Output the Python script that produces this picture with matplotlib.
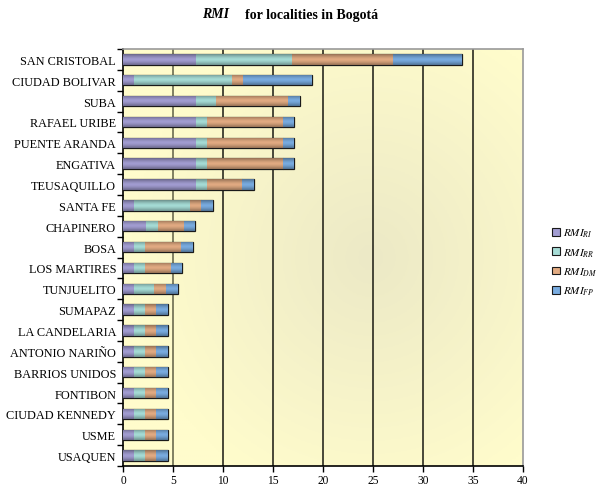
import numpy as np
import matplotlib
matplotlib.use("Agg")
import matplotlib.pyplot as plt
from matplotlib.colors import to_rgb
from matplotlib.patches import Patch

plt.rcParams['font.family'] = ['Liberation Serif', 'DejaVu Serif']
plt.rcParams['mathtext.fontset'] = 'stix'

localities = ["SAN CRISTOBAL", "CIUDAD BOLIVAR", "SUBA", "RAFAEL URIBE", "PUENTE ARANDA",
              "ENGATIVA", "TEUSAQUILLO", "SANTA FE", "CHAPINERO", "BOSA", "LOS MARTIRES",
              "TUNJUELITO", "SUMAPAZ", "LA CANDELARIA", "ANTONIO NARIÑO", "BARRIOS UNIDOS",
              "FONTIBON", "CIUDAD KENNEDY", "USME", "USAQUEN"]
rmi_ri = [7.3, 1.1, 7.3, 7.3, 7.3, 7.3, 7.3, 1.1, 2.3, 1.1, 1.1, 1.1, 1.1, 1.1, 1.1, 1.1, 1.1, 1.1, 1.1, 1.1]
rmi_rr = [9.6, 9.8, 2.0, 1.1, 1.1, 1.1, 1.1, 5.6, 1.2, 1.1, 1.1, 2.0, 1.1, 1.1, 1.1, 1.1, 1.1, 1.1, 1.1, 1.1]
rmi_dm = [10.1, 1.1, 7.2, 7.6, 7.6, 7.6, 3.5, 1.1, 2.6, 3.6, 2.6, 1.2, 1.1, 1.1, 1.1, 1.1, 1.1, 1.1, 1.1, 1.1]
rmi_fp = [6.9, 6.9, 1.2, 1.1, 1.1, 1.1, 1.2, 1.2, 1.1, 1.2, 1.1, 1.2, 1.2, 1.2, 1.2, 1.2, 1.2, 1.2, 1.2, 1.2]
series = [rmi_ri, rmi_rr, rmi_dm, rmi_fp]
series_labels = [r'$\mathit{RMI}_{RI}$', r'$\mathit{RMI}_{RR}$', r'$\mathit{RMI}_{DM}$', r'$\mathit{RMI}_{FP}$']
colors = ['#a29dd2', '#a6dcd6', '#e2ab82', '#79ace0']
xticks = [0, 5, 10, 15, 20, 25, 30, 35, 40]

fig = plt.figure(figsize=(5.99, 4.89), dpi=100)
ax = fig.add_axes([123/599, 1 - 467/489, 400/599, 417/489])

# background gradient
yy, xx = np.mgrid[0:1:200j, 0:1:200j]
r = np.sqrt((xx - 0.62) ** 2 + (yy - 0.5) ** 2)
t = np.clip(r / 0.6, 0, 1)
c_in = np.array(to_rgb('#ece9c6'))
c_out = np.array(to_rgb('#fffccc'))
bg = c_in[None, None, :] * (1 - t[..., None]) + c_out[None, None, :] * t[..., None]
ax.imshow(bg, extent=[0, 1, 0, 1], transform=ax.transAxes, aspect='auto', zorder=0)

n = len(localities)
ypos = np.arange(n)
left = np.zeros(n)
grad = np.linspace(-1, 1, 50)
shade = 1 - 0.35 * np.abs(grad) ** 1.5
for vals, col, lab in zip(series, colors, series_labels):
    bars = ax.barh(ypos, vals, left=left, height=0.5, color=col, edgecolor='#1a1a1a',
                   linewidth=0.9, label=lab, zorder=3)
    base = np.array(to_rgb(col))
    img = np.clip(base[None, :] * shade[:, None], 0, 1)[:, None, :]
    for p in bars:
        x0, y0 = p.get_x(), p.get_y()
        im = ax.imshow(img, extent=[x0, x0 + p.get_width(), y0, y0 + p.get_height()],
                       aspect='auto', zorder=3.5, interpolation='bilinear')
        im.set_clip_path(p)
    left = left + np.array(vals)

ax.set_xlim(0, 40)
ax.set_ylim(n - 0.5, -0.5)
ax.set_yticks(ypos)
ax.set_yticklabels(localities, fontsize=8.8)
ax.set_yticks(np.arange(-0.5, n, 1), minor=True)
ax.tick_params(axis='y', which='major', length=0, pad=5)
ax.tick_params(axis='y', which='minor', length=4, width=1, color='black', direction='out')
ax.set_xticks(xticks)
ax.set_xticklabels([str(v) for v in xticks], fontsize=8.3)
ax.tick_params(axis='x', length=4, width=1, direction='out', color='black', pad=1.5)
for v in xticks[1:-1]:
    ax.axvline(v, color='#2a2a20' if v != 5 else '#6b6b50', linewidth=1.2, zorder=1)

ax.spines['left'].set_color('black')
ax.spines['left'].set_linewidth(1.2)
ax.spines['bottom'].set_color('black')
ax.spines['bottom'].set_linewidth(1.2)
for s in ['top', 'right']:
    ax.spines[s].set_color('#999999')
    ax.spines[s].set_linewidth(1.2)

fig.text(202/599, 1 - 15/489, 'RMI', ha='left', va='center', fontsize=10,
         fontweight='bold', fontstyle='italic')
fig.text(245/599, 1 - 15/489, 'for localities in Bogotá', ha='left', va='center',
         fontsize=10, fontweight='bold')

proxies = [Patch(facecolor=c, edgecolor='#1a1a1a', linewidth=0.8) for c in colors]
fig.legend(proxies, series_labels, loc='center left', bbox_to_anchor=(552/599, 1 - 263/489),
           frameon=False, fontsize=8, handlelength=0.7, handleheight=0.7,
           handletextpad=0.25, labelspacing=0.6, borderaxespad=0, borderpad=0)

fig.savefig('out.png', dpi=100, facecolor='white')
